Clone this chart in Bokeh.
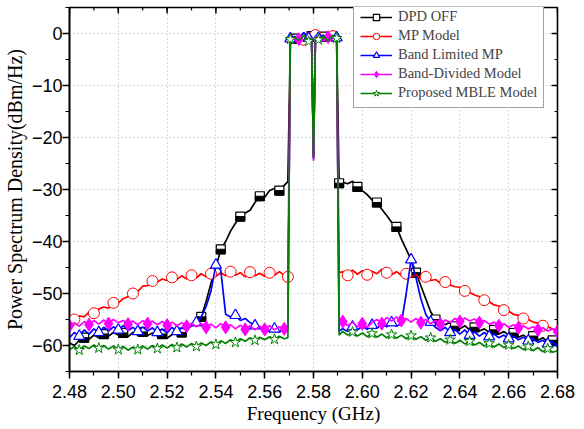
from bokeh.plotting import figure
from bokeh.models import (Range1d, Legend, LegendItem, FixedTicker,
                          PrintfTickFormatter)
from bokeh.embed import file_html
from bokeh.resources import INLINE

# ---------------- data ----------------
freq = [2.480, 2.482, 2.484, 2.486, 2.488, 2.490, 2.492, 2.494, 2.496, 2.498,
        2.500, 2.502, 2.504, 2.506, 2.508, 2.510, 2.512, 2.514, 2.516, 2.518,
        2.520, 2.522, 2.524, 2.526, 2.528, 2.530, 2.532, 2.534, 2.536, 2.538,
        2.540, 2.542, 2.544, 2.546, 2.548, 2.550, 2.552, 2.554, 2.556, 2.558,
        2.560, 2.562, 2.564, 2.566, 2.568,
        2.5695, 2.5705,
        2.572, 2.574, 2.576, 2.578, 2.5792, 2.5800, 2.5808, 2.582, 2.584, 2.586, 2.588,
        2.5895, 2.5905,
        2.592, 2.594, 2.596, 2.598, 2.600, 2.602, 2.604, 2.606, 2.608, 2.610,
        2.612, 2.614, 2.616, 2.618, 2.620, 2.622, 2.624, 2.626, 2.628, 2.630,
        2.632, 2.634, 2.636, 2.638, 2.640, 2.642, 2.644, 2.646, 2.648, 2.650,
        2.652, 2.654, 2.656, 2.658, 2.660, 2.662, 2.664, 2.666, 2.668, 2.670,
        2.672, 2.674, 2.676, 2.678, 2.680]

dpd_off = [-59.5, -60.0, -59.0, -58.5, -58.8, -58.0, -58.5, -57.8, -58.2, -57.5,
           -58.0, -57.6, -58.3, -57.5, -58.0, -57.4, -58.1, -57.6, -58.2, -57.8,
           -58.6, -57.9, -57.2, -57.5, -56.8, -56.2, -55.5, -54.5, -51.5, -48.0,
           -45.0, -41.5, -40.0, -38.0, -36.5, -35.2, -34.5, -34.0, -32.5, -31.3,
           -31.5, -30.2, -29.8, -30.2, -29.2,
           -28.5, -1.5,
           -1.0, -0.8, -2.0, -1.2, -0.5, -23.5, -0.5, -1.0, -0.6, -1.3, -0.4,
           -1.0, -28.8,
           -28.6, -28.9, -28.4, -29.5, -30.2, -31.0, -32.0, -32.5, -33.8, -35.0,
           -36.3, -37.2, -39.5, -41.5, -43.5, -46.0, -48.5, -51.0, -53.5, -55.0,
           -55.5, -56.0, -55.5, -56.3, -56.8, -56.2, -57.0, -56.5, -57.2, -56.8,
           -57.5, -57.0, -57.8, -57.3, -58.0, -57.6, -58.4, -58.0, -58.6, -58.2,
           -59.0, -58.5, -59.3, -59.0, -59.5]

mp_model = [-55.5, -55.0, -54.3, -54.5, -53.6, -53.8, -53.0, -52.6, -52.8, -51.8,
            -51.8, -51.0, -50.6, -50.0, -49.6, -48.6, -48.5, -47.6, -47.8, -47.2,
            -47.5, -46.9, -47.3, -46.6, -47.2, -46.5, -47.0, -46.2, -46.8, -46.2,
            -46.7, -46.0, -46.6, -45.8, -46.5, -46.0, -46.8, -45.9, -46.6, -46.1,
            -46.7, -46.0, -46.5, -45.8, -46.5,
            -46.8, -1.2,
            -0.8, -1.0, -1.2, -0.9, -0.6, -23.8, -0.3, -0.6, -1.0, -0.7, -0.5,
            -1.1, -46.0,
            -45.8, -46.5, -45.5, -46.3, -45.6, -46.4, -45.7, -46.2, -45.3, -46.0,
            -46.4, -45.8, -46.5, -46.2, -46.8, -46.4, -47.2, -46.8, -47.5, -47.3,
            -48.0, -47.8, -48.4, -48.7, -48.8, -49.5, -49.8, -50.3, -50.6, -51.3,
            -51.6, -52.2, -52.4, -53.2, -53.4, -54.0, -54.2, -54.8, -55.0, -55.5,
            -55.7, -56.2, -56.4, -56.8, -57.2]

band_limited_mp = [-58.5, -57.5, -58.2, -57.0, -57.8, -56.8, -57.5, -56.5, -57.2, -56.4,
                   -57.0, -56.2, -57.1, -56.5, -57.3, -56.4, -57.2, -56.6, -57.5, -56.8,
                   -57.6, -56.5, -57.3, -56.6, -57.0, -56.2, -55.6, -54.5, -52.5, -49.5,
                   -44.5, -45.5, -54.0, -54.5, -54.2, -55.2, -54.8, -55.6, -56.2, -56.6,
                   -57.0, -57.3, -56.8, -57.4, -56.9,
                   -56.5, -1.0,
                   -0.6, -0.8, 0.2, -0.9, -0.6, -24.2, -0.4, -0.9, -0.3, -1.0, -0.6,
                   -0.8, -57.2,
                   -56.8, -57.3, -56.4, -57.0, -56.3, -56.9, -56.1, -56.7, -55.8, -56.4,
                   -55.6, -56.3, -55.8, -50.0, -43.5, -47.0, -51.0, -54.0, -55.5, -56.5,
                   -57.2, -56.5, -57.5, -56.9, -57.8, -57.0, -58.0, -57.4, -58.2, -57.5,
                   -58.3, -57.8, -58.5, -58.0, -58.7, -58.2, -58.9, -58.4, -59.1, -58.7,
                   -59.4, -59.0, -59.7, -59.3, -60.2]

band_divided = [-56.2, -55.6, -56.3, -55.4, -56.0, -55.2, -55.9, -55.1, -55.8, -55.0,
                -55.6, -55.2, -55.9, -55.3, -56.0, -55.2, -55.8, -55.3, -56.0, -55.4,
                -56.1, -55.5, -56.2, -55.6, -56.3, -55.7, -56.4, -55.8, -56.5, -55.9,
                -56.6, -55.8, -56.5, -56.0, -56.8, -56.1, -56.9, -56.2, -57.0, -56.3,
                -56.9, -56.2, -57.0, -56.4, -56.8,
                -56.5, -1.3,
                -0.9, -1.1, -0.5, -1.2, -0.8, -24.5, -0.6, -0.8, -1.4, -0.7, -0.9,
                -1.2, -55.0,
                -55.4, -56.2, -55.5, -56.4, -55.8, -56.5, -55.6, -55.0, -55.8, -54.6,
                -55.3, -54.5, -55.2, -54.8, -55.5, -54.8, -55.6, -55.0, -55.8, -55.2,
                -55.9, -55.1, -55.6, -54.8, -55.4, -54.7, -55.3, -54.9, -55.6, -55.2,
                -55.9, -55.5, -56.2, -55.8, -56.5, -56.0, -56.6, -56.2, -56.8, -56.4,
                -57.0, -56.6, -57.2, -56.8, -57.3]

proposed_mble = [-60.8, -60.2, -60.9, -60.1, -60.6, -59.9, -60.5, -60.0, -60.7, -60.1,
                 -60.8, -60.2, -60.9, -60.3, -60.8, -60.1, -60.7, -60.0, -60.6, -59.9,
                 -60.5, -59.8, -60.4, -59.7, -60.3, -59.6, -60.2, -59.5, -60.0, -59.3,
                 -59.8, -59.1, -59.6, -58.9, -59.4, -58.7, -59.2, -58.5, -59.0, -58.4,
                 -58.9, -58.3, -58.8, -58.2, -58.7,
                 -58.5, -1.1,
                 -0.7, -1.3, -0.4, -1.5, -0.9, -23.9, -0.7, -1.2, -0.5, -1.4, -0.3,
                 -0.9, -58.0,
                 -57.3, -58.0, -57.4, -58.2, -57.6, -58.3, -57.7, -58.4, -57.8, -58.5,
                 -57.9, -58.6, -58.0, -58.7, -58.1, -58.8, -58.3, -59.0, -58.5, -59.2,
                 -58.7, -59.4, -58.9, -59.6, -59.0, -59.7, -59.2, -59.9, -59.4, -60.1,
                 -59.6, -60.3, -59.7, -60.4, -59.9, -60.6, -60.1, -60.8, -60.2, -61.0,
                 -60.4, -61.2, -60.6, -61.3, -61.0]

x_ticks = [2.48, 2.50, 2.52, 2.54, 2.56, 2.58, 2.60, 2.62, 2.64, 2.66, 2.68]
x_minor = [2.48, 2.49, 2.50, 2.51, 2.52, 2.53, 2.54, 2.55, 2.56, 2.57, 2.58,
           2.59, 2.60, 2.61, 2.62, 2.63, 2.64, 2.65, 2.66, 2.67, 2.68]
y_ticks = [-60, -50, -40, -30, -20, -10, 0]
y_minor = [-65, -60, -55, -50, -45, -40, -35, -30, -25, -20, -15, -10, -5, 0, 5]

labels = ["DPD OFF", "MP Model", "Band Limited MP", "Band-Divided Model",
          "Proposed MBLE Model"]

X0, X1 = 2.48, 2.68
Y0, Y1 = -65, 5

# ---------------- figure ----------------
W, H = 584, 429
ML, MR, MT, MB = 68, 27, 7, 58
p = figure(width=W, height=H, output_backend="svg", toolbar_location=None,
           x_range=Range1d(X0, X1), y_range=Range1d(Y0, Y1),
           min_border_left=ML, min_border_right=MR, min_border_top=MT,
           min_border_bottom=MB)
p.outline_line_color = "black"
p.outline_line_width = 1.6
p.background_fill_color = "white"
p.border_fill_color = "white"

TICK_FONT = "Liberation Sans"
SERIF = "Liberation Serif"

xa = p.xaxis[0]
xa.ticker = FixedTicker(ticks=x_ticks, minor_ticks=x_minor)
xa.formatter = PrintfTickFormatter(format="%.2f")
ya = p.yaxis[0]
ya.ticker = FixedTicker(ticks=y_ticks, minor_ticks=y_minor)

for ax in (xa, ya):
    ax.axis_line_width = 1.6
    ax.major_tick_line_width = 1.5
    ax.minor_tick_line_width = 1.2
    ax.major_tick_out = 7
    ax.major_tick_in = 0
    ax.minor_tick_out = 4
    ax.minor_tick_in = 0
    ax.major_label_text_font = TICK_FONT
    ax.major_label_text_font_size = "18px"
    ax.major_label_text_color = "black"
    ax.axis_label_text_font = SERIF
    ax.axis_label_text_font_style = "normal"
    ax.axis_label_text_color = "black"

xa.axis_label = "Frequency (GHz)"
xa.axis_label_text_font_size = "19px"
xa.major_label_standoff = 6
xa.axis_label_standoff = 2
ya.axis_label = "Power Spectrum Density(dBm/Hz)"
ya.axis_label_text_font_size = "20px"
ya.major_label_standoff = 0
ya.axis_label_standoff = 3

for g in (p.xgrid[0], p.ygrid[0]):
    g.grid_line_color = "#b0b0b0"
    g.grid_line_dash = "1 3"
    g.grid_line_width = 1
p.xgrid[0].ticker = FixedTicker(ticks=x_ticks[1:-1])
p.ygrid[0].ticker = FixedTicker(ticks=y_ticks)

# mirror ticks on top and right edges (pointing inward)
fw, fh = W - ML - MR, H - MT - MB
dx_px = (X1 - X0) / fw
dy_px = (Y1 - Y0) / fh
p.segment(x0=x_ticks, y0=[Y1] * len(x_ticks), x1=x_ticks,
          y1=[Y1 - 6 * dy_px] * len(x_ticks), line_color="black", line_width=1.5)
p.segment(x0=x_minor, y0=[Y1] * len(x_minor), x1=x_minor,
          y1=[Y1 - 3 * dy_px] * len(x_minor), line_color="black", line_width=1.2)
p.segment(x0=[X1] * len(y_ticks), y0=y_ticks, x1=[X1 - 6 * dx_px] * len(y_ticks),
          y1=y_ticks, line_color="black", line_width=1.5)
p.segment(x0=[X1] * len(y_minor), y0=y_minor, x1=[X1 - 3 * dx_px] * len(y_minor),
          y1=y_minor, line_color="black", line_width=1.2)

series = [dpd_off, mp_model, band_limited_mp, band_divided, proposed_mble]
colors = ["black", "red", "blue", "magenta", "green"]
offsets = [1, 3, 2, 0, 2]
dip = freq.index(2.5800)
items = []
for k, (ys, c) in enumerate(zip(series, colors)):
    ln = p.line(freq, ys, line_color=c, line_width=1.7)
    idx = [i for i in range(len(freq)) if (i + offsets[k]) % 4 == 0 and i != dip]
    mx = [freq[i] for i in idx]
    my = [ys[i] for i in idx]
    rends = [ln]
    if k == 0:
        m = p.scatter(mx, my, marker="square", size=9, fill_color="white",
                      line_color="black", line_width=1.2)
        p.rect(mx, [v - 2.2 * dy_px for v in my], width=9, height=4.5,
               width_units="screen", height_units="screen",
               fill_color="black", line_color="black")
    elif k == 1:
        m = p.scatter(mx, my, marker="circle", size=11, fill_color="white",
                      line_color="red", line_width=1)
    elif k == 2:
        m = p.scatter(mx, my, marker="triangle", size=11, fill_color="white",
                      line_color="blue", line_width=1.2)
    elif k == 3:
        m = p.scatter(mx, my, marker="diamond", size=13, fill_color="magenta",
                      line_color="magenta", line_width=1)
    else:
        m = p.scatter(mx, my, marker="star", size=11, fill_color="white",
                      line_color="green", line_width=1)
    rends.append(m)
    items.append(LegendItem(label=labels[k], renderers=rends))

legend = Legend(items=items, location=(284, 263),
                label_text_font=SERIF, label_text_font_size="14.5px",
                glyph_width=32, glyph_height=16, label_height=16,
                label_standoff=6, spacing=2, padding=6, margin=0,
                border_line_color="#444444", border_line_width=1,
                background_fill_alpha=1.0)
p.add_layout(legend, "center")

open("out.html", "w").write(file_html(p, INLINE))
